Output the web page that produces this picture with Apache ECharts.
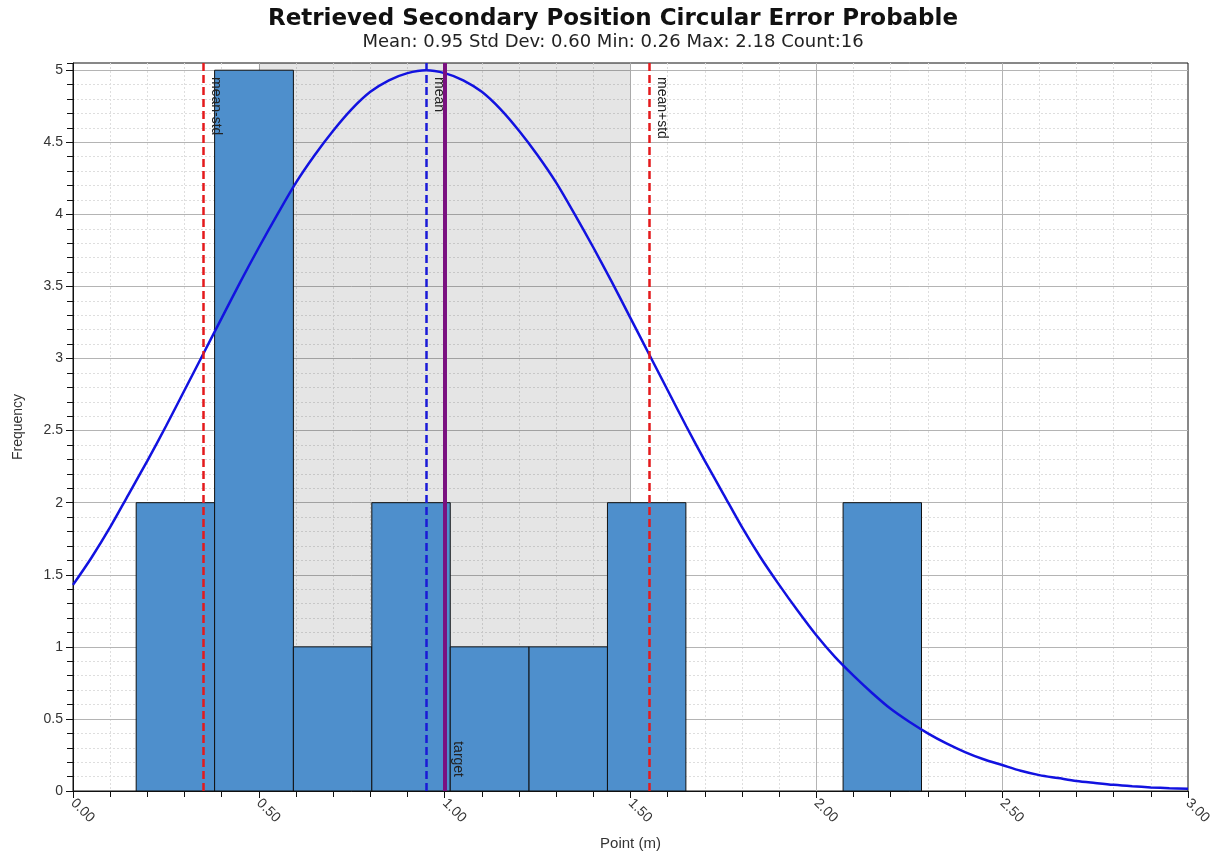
<!DOCTYPE html>
<html>
<head>
<meta charset="utf-8">
<title>Retrieved Secondary Position Circular Error Probable</title>
<script src="https://cdn.jsdelivr.net/npm/echarts@6/dist/echarts.min.js"></script>
<style>
    html, body { margin: 0; padding: 0; background: #fff; }
    #chart_div { width: 1226px; height: 854px; }
</style>
</head>
<body>
<div id="chart_div"></div>
<script>
    // histogram bins (edges in m) and frequency per bin
    var binEdges = [0.170, 0.381, 0.593, 0.804, 1.015, 1.227, 1.438, 1.649, 1.860, 2.072, 2.283];
    var binCounts = [2, 5, 1, 2, 1, 1, 2, 0, 0, 2];

    // fitted normal curve, every 0.05 m
    var curveX = [0, 0.05, 0.1, 0.15, 0.2, 0.25, 0.3, 0.35, 0.4, 0.45, 0.5, 0.55, 0.6, 0.65, 0.7, 0.75,
                  0.8, 0.85, 0.9, 0.95, 1.0, 1.05, 1.1, 1.15, 1.2, 1.25, 1.3, 1.35, 1.4, 1.45, 1.5,
                  1.55, 1.6, 1.65, 1.7, 1.75, 1.8, 1.85, 1.9, 1.95, 2.0, 2.05, 2.1, 2.15, 2.2, 2.25,
                  2.3, 2.35, 2.4, 2.45, 2.5, 2.55, 2.6, 2.65, 2.7, 2.75, 2.8, 2.85, 2.9, 2.95, 3.0];
    var curveY = [1.43, 1.62, 1.83, 2.06, 2.29, 2.53, 2.78, 3.03, 3.28, 3.53, 3.77, 4.00, 4.22, 4.41, 4.58, 4.73,
                  4.85, 4.93, 4.98, 5.00, 4.98, 4.93, 4.85, 4.73, 4.58, 4.41, 4.22, 4.00, 3.77, 3.53, 3.28,
                  3.03, 2.78, 2.53, 2.29, 2.06, 1.83, 1.62, 1.43, 1.25, 1.08, 0.93, 0.80, 0.68, 0.57, 0.48,
                  0.40, 0.33, 0.27, 0.22, 0.18, 0.14, 0.11, 0.09, 0.07, 0.056, 0.043, 0.033, 0.025, 0.019, 0.015];

    // reference lines
    var refNames = ['mean-std', 'mean', 'target', 'mean+std'];
    var refValues = [0.35, 0.95, 1.00, 1.55];
    // shaded band
    var bandRange = [0.5, 1.5];

    var yTop = 5.05;

    var histData = [];
    for (var i = 0; i < binCounts.length; i++) {
        if (binCounts[i] > 0) histData.push([binEdges[i], binEdges[i + 1], binCounts[i]]);
    }
    var curveData = curveX.map(function (x, i) { return [x, curveY[i]]; });

    var refStyle = {
        'mean-std': { color: '#e41a1c', type: [8, 4], width: 2.5, pos: 'insideStartTop' },
        'mean': { color: '#1a1ad6', type: [8, 4], width: 2.5, pos: 'insideStartTop' },
        'target': { color: '#7a1180', type: 'solid', width: 4, pos: 'insideEndTop' },
        'mean+std': { color: '#e41a1c', type: [8, 4], width: 2.5, pos: 'insideStartTop' }
    };
    var refLines = refNames.map(function (name, i) {
        var s = refStyle[name];
        return [
            {
                coord: [refValues[i], yTop],
                name: name,
                lineStyle: { color: s.color, type: s.type, width: s.width },
                label: { position: s.pos }
            },
            { coord: [refValues[i], 0] }
        ];
    });

    var myChart = echarts.init(document.getElementById('chart_div'));
    myChart.setOption({
        animation: false,
        backgroundColor: '#fff',
        title: {
            text: 'Retrieved Secondary Position Circular Error Probable',
            subtext: 'Mean: 0.95 Std Dev: 0.60 Min: 0.26 Max: 2.18 Count:16',
            left: 'center',
            top: 3,
            padding: [5, 0, 5, 34],
            itemGap: 2,
            textStyle: { fontFamily: 'DejaVu Sans', fontSize: 23, fontWeight: 'bold', color: '#111' },
            subtextStyle: { fontFamily: 'DejaVu Sans', fontSize: 18, color: '#222' }
        },
        grid: {
            left: 73, right: 38, top: 63, bottom: 63,
            outerBoundsMode: 'none',
            show: true,
            borderColor: '#111',
            borderWidth: 1,
            backgroundColor: 'transparent'
        },
        xAxis: {
            type: 'value',
            min: 0, max: 3, interval: 0.5,
            name: 'Point (m)',
            nameLocation: 'middle',
            nameGap: 45,
            nameTextStyle: { fontFamily: 'Liberation Sans', fontSize: 15, color: '#333' },
            axisLine: { show: true, lineStyle: { color: '#111' } },
            axisTick: { show: true, length: 7, lineStyle: { color: '#111' } },
            minorTick: { show: true, splitNumber: 5, length: 6, lineStyle: { color: '#111' } },
            axisLabel: {
                rotate: -45, margin: 10,
                fontFamily: 'Liberation Sans', fontSize: 14, color: '#333',
                formatter: function (v) { return v.toFixed(2); }
            },
            splitLine: { show: true, showMinLine: false, showMaxLine: false, lineStyle: { color: '#b4b4b4', width: 1 } },
            minorSplitLine: { show: true, lineStyle: { color: '#dedede', type: [2, 2] } }
        },
        yAxis: [
            {
                type: 'value',
                z: 1,
                min: 0, max: yTop, interval: 0.5,
                name: 'Frequency',
                nameLocation: 'middle',
                nameGap: 48,
                nameTextStyle: { fontFamily: 'Liberation Sans', fontSize: 14, color: '#333' },
                axisLine: { show: true, lineStyle: { color: '#111' } },
                axisTick: { show: true, length: 7, lineStyle: { color: '#111' } },
                axisLabel: {
                    showMaxLabel: false, margin: 10,
                    fontFamily: 'Liberation Sans', fontSize: 14, color: '#333'
                },
                splitLine: { show: true, showMinLine: false, showMaxLine: false, lineStyle: { color: '#b4b4b4', width: 1 } }
            },
            {
                // minor grid every 0.1
                type: 'value',
                z: 0,
                position: 'left',
                offset: 0,
                min: 0, max: yTop, interval: 0.1,
                axisLine: { show: false },
                axisTick: { show: true, length: 6, lineStyle: { color: '#111' } },
                axisLabel: { show: false },
                splitLine: { show: true, showMinLine: false, showMaxLine: false, lineStyle: { color: '#dedede', type: [2, 2] } }
            }
        ],
        series: [
            {
                name: 'band',
                type: 'line',
                data: [],
                z: 1,
                markArea: {
                    silent: true,
                    itemStyle: { color: 'rgba(0,0,0,0.1)' },
                    data: [[{ coord: [bandRange[0], 0] }, { coord: [bandRange[1], yTop] }]]
                }
            },
            {
                name: 'histogram',
                type: 'custom',
                z: 2,
                encode: { x: [0, 1], y: 2 },
                renderItem: function (params, api) {
                    var p0 = api.coord([api.value(0), api.value(2)]);
                    var p1 = api.coord([api.value(1), 0]);
                    return {
                        type: 'rect',
                        shape: { x: p0[0], y: p0[1], width: p1[0] - p0[0], height: p1[1] - p0[1] },
                        style: { fill: '#4e8fcc', stroke: '#111', lineWidth: 1 }
                    };
                },
                data: histData
            },
            {
                name: 'normal',
                type: 'line',
                z: 3,
                smooth: 0.3,
                showSymbol: false,
                lineStyle: { color: '#1212e0', width: 2.5 },
                data: curveData
            },
            {
                name: 'refs',
                type: 'line',
                data: [],
                z: 4,
                markLine: {
                    silent: true,
                    symbol: ['none', 'none'],
                    label: {
                        show: true,
                        formatter: '{b}',
                        distance: [14, 6],
                        fontFamily: 'Liberation Sans',
                        fontSize: 14,
                        color: '#222'
                    },
                    data: refLines
                }
            }
        ]
    });
</script>
</body>
</html>
